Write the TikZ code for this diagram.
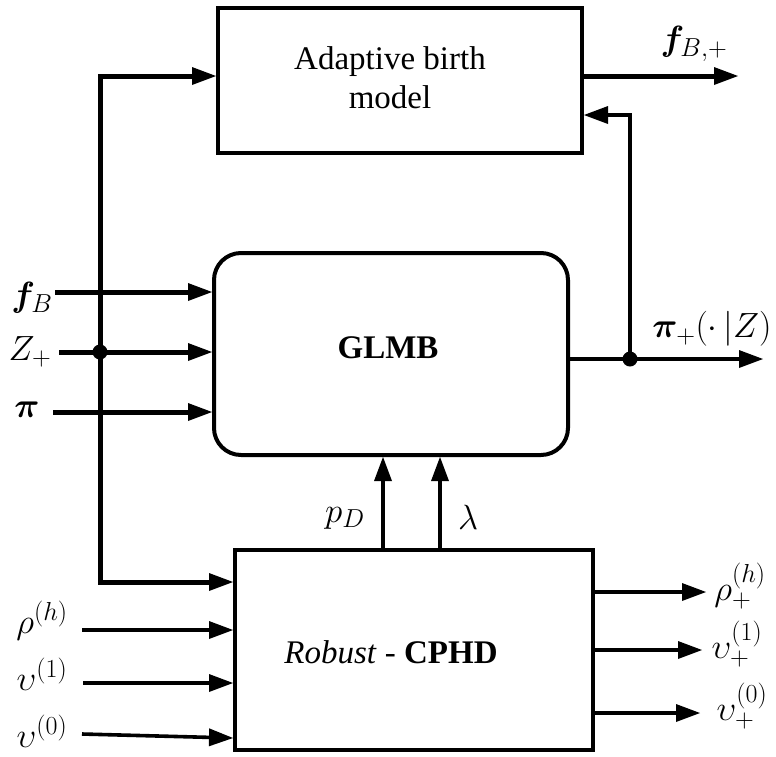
\RequirePackage{fix-cm}
\documentclass[tikz,border=0pt]{standalone}
\usepackage{amsmath}
\usepackage{bm}
\usepackage{fontspec}
\setmainfont{Liberation Serif}
\usetikzlibrary{arrows.meta}
\DeclareMathSizes{35}{35}{26}{20}

\begin{document}
\begin{tikzpicture}[x=1pt,y=-1pt,
  blk/.style={draw, line width=4pt, inner sep=0pt},
  txt/.style={font=\fontsize{33}{39}\selectfont, align=center, inner sep=0pt},
  lbl/.style={font=\fontsize{35}{40}\selectfont, inner sep=0pt},
  tip/.style={-{Triangle[length=24pt,width=18pt,line width=0pt]}},
  bigflow/.style={tip, line width=5pt},
  flow/.style={tip, line width=4pt},
  thinflow/.style={tip, line width=3.6pt},
  dot/.style={circle, fill, inner sep=0pt, minimum size=15pt},
]
\useasboundingbox (0,0) rectangle (776,756);

% blocks
\node[blk, minimum width=364pt, minimum height=145pt] (birth) at (400,80.5) {};
\node[blk, rounded corners=27pt, minimum width=354pt, minimum height=202pt] (glmb) at (391,354) {};
\node[blk, minimum width=358pt, minimum height=200pt] (cphd) at (414,650) {};

\node[txt] (birthtxt) at (390,78) {Adaptive birth\\model};
\node[txt] (glmbtxt) at (388,348) {\textbf{GLMB}};
\node[txt] (cphdtxt) at (391,652) {\textit{Robust} - \textbf{CPHD}};

% shared bus feeding the birth model and the CPHD filter
\coordinate (bt) at (100,76);
\coordinate (bb) at (100,582);
\draw[line width=5pt, {Triangle[length=24pt,width=18pt,line width=0pt]}-{Triangle[length=24pt,width=18pt,line width=0pt]}]
  (bt -| birth.west) -- (bt) -- (bb) -- (bb -| cphd.west);

% GLMB inputs
\coordinate (inF) at (55,292);
\coordinate (inZ) at (59,352);
\coordinate (inP) at (53,412);
\draw[bigflow] (inF) -- (inF -| glmb.west);
\draw[bigflow] (inZ) -- (inZ -| glmb.west);
\draw[bigflow] (inP) -- (inP -| glmb.west);
\node[dot] (zdot) at (100,352) {};

\node[lbl] (lfB) at (32,298) {$\bm{f}_{B}$};
\node[lbl] (lZ) at (30,352) {$Z_{+}$};
\node[lbl] (lpi) at (27,410) {$\bm{\pi}$};

% birth model output
\coordinate (outFB) at (738,76);
\draw[bigflow] (outFB -| birth.east) -- (outFB);
\node[lbl] (lfBp) at (694,44) {$\bm{f}_{B,+}$};

% GLMB output and feedback to the birth model
\coordinate (outPi) at (763,359);
\coordinate (fb) at (630,115);
\draw[flow, line width=4.5pt] (outPi -| glmb.east) -- (outPi);
\node[dot] (pidot) at (630,359) {};
\draw[flow] (pidot.center) -- (fb) -- (fb -| birth.east);
\node[lbl] (lpip) at (712,329) {$\bm{\pi}_{+}(\cdot\,|Z)$};

% CPHD estimates passed to GLMB
\coordinate (pdx) at (383,0);
\coordinate (lmx) at (440,0);
\draw[flow] (pdx |- cphd.north) -- (pdx |- glmb.south);
\draw[flow] (lmx |- cphd.north) -- (lmx |- glmb.south);
\node[lbl] (lpD) at (345,518) {$p_{D}$};
\node[lbl] (llam) at (468,517) {$\lambda$};

% CPHD inputs
\coordinate (inR) at (82,630);
\coordinate (inV1) at (83,683);
\coordinate (inV0) at (82,734);
\coordinate (endV0) at (0,738);
\draw[thinflow] (inR) -- (inR -| cphd.west);
\draw[thinflow] (inV1) -- (inV1 -| cphd.west);
\draw[thinflow] (inV0) -- (endV0 -| cphd.west);
\node[lbl] (lR) at (42,621) {$\rho^{(h)}$};
\node[lbl] (lV1) at (42,674) {$\upsilon^{(1)}$};
\node[lbl] (lV0) at (42,731) {$\upsilon^{(0)}$};

% CPHD outputs
\coordinate (outR) at (706,592);
\coordinate (outV1) at (702,650);
\coordinate (outV0) at (700,713);
\draw[flow] (outR -| cphd.east) -- (outR);
\draw[flow] (outV1 -| cphd.east) -- (outV1);
\draw[flow] (outV0 -| cphd.east) -- (outV0);
\node[lbl] (lRp) at (740,586) {$\rho_{+}^{(h)}$};
\node[lbl] (lV1p) at (737,644) {$\upsilon_{+}^{(1)}$};
\node[lbl] (lV0p) at (742,706) {$\upsilon_{+}^{(0)}$};
\end{tikzpicture}
\end{document}
